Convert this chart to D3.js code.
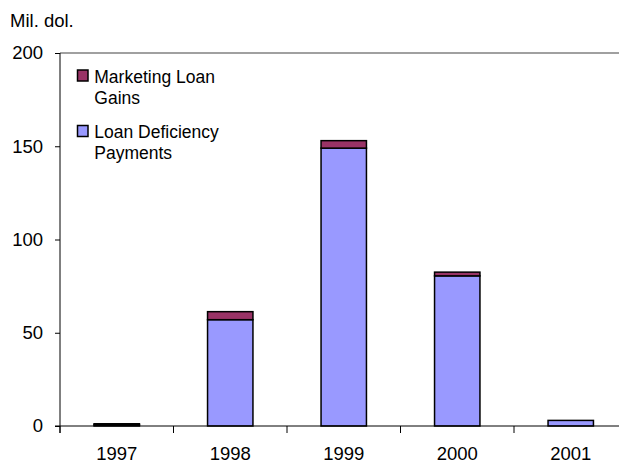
<!DOCTYPE html>
<html><head><meta charset="utf-8">
<script src="https://cdn.jsdelivr.net/npm/d3@7"></script>
<style>body{margin:0;background:#fff}svg{display:block;font-family:"Liberation Sans",Arial,sans-serif}</style>
</head><body><svg id="c" width="619" height="464"></svg>
<script>
const years = ["1997","1998","1999","2000","2001"];
const loanDeficiency = [0.6, 57, 149, 80.5, 3];
const marketingGains = [0.6, 4.3, 4, 2, 0];
const yTicks = [0, 50, 100, 150, 200];
const seriesNames = ["Marketing Loan Gains", "Loan Deficiency Payments"];

const svg = d3.select("#c");
const mLeft = 60, mTop = 53, mBottom = 426, mRight = 627.5;
const x = d3.scaleBand().domain(years).range([mLeft, mRight]).paddingInner(0.6).paddingOuter(0.3);
const y = d3.scaleLinear().domain([0, 200]).range([mBottom, mTop]);
const FONT = "Liberation Sans, Arial, sans-serif";

// top border line
svg.append("line").attr("x1", mLeft).attr("x2", 619).attr("y1", y(200)).attr("y2", y(200))
  .attr("stroke", "#808080").attr("stroke-width", 1.5);

const data = years.map((yr, i) => ({year: yr, ldp: loanDeficiency[i], mlg: marketingGains[i]}));
const stack = d3.stack().keys(["ldp", "mlg"])(data);
const colors = {ldp: "#9999FF", mlg: "#993366"};
stack.forEach(s => {
  svg.append("g").selectAll("rect").data(s).join("rect")
    .attr("x", d => x(d.data.year))
    .attr("width", x.bandwidth())
    .attr("y", d => y(d[1]))
    .attr("height", d => Math.max(0, y(d[0]) - y(d[1])))
    .attr("fill", colors[s.key])
    .attr("stroke", "#000").attr("stroke-width", 1.5);
});

// Y axis
const yAxis = d3.axisLeft(y).tickValues(yTicks).tickSize(5).tickPadding(12).tickSizeOuter(0);
const gy = svg.append("g").attr("transform", `translate(${mLeft},0)`).call(yAxis);
gy.select(".domain").attr("stroke", "#000").attr("d", `M0,${y(200)}V${mBottom + 7}`);
gy.selectAll(".tick line").attr("stroke", "#000");
gy.selectAll("text").attr("font-size", 18.5).attr("fill", "#000").attr("font-family", FONT);

// X axis
const xAxis = d3.axisBottom(x).tickSize(0).tickPadding(21).tickSizeOuter(0);
const gx = svg.append("g").attr("transform", `translate(0,${mBottom})`).call(xAxis);
gx.select(".domain").attr("stroke", "#000").attr("d", `M${mLeft - 5},0H619`);
gx.selectAll("text").attr("font-size", 18.5).attr("fill", "#000").attr("font-family", FONT);
// tick marks between categories
const step = x.step();
const boundaries = years.map((d, i) => mLeft + i * step);
gx.selectAll(".bnd").data(boundaries).join("line").attr("class", "bnd")
  .attr("x1", d => d).attr("x2", d => d).attr("y1", 0).attr("y2", 7).attr("stroke", "#000");

// Unit label
svg.append("text").attr("x", 10).attr("y", 26.7).attr("font-size", 18.5).attr("font-family", FONT).text("Mil. dol.");

// Legend
const legend = [
  {name: ["Marketing Loan", "Gains"], color: colors.mlg, y: 69.5},
  {name: ["Loan Deficiency", "Payments"], color: colors.ldp, y: 125}
];
const lg = svg.append("g");
legend.forEach(l => {
  lg.append("rect").attr("x", 77.5).attr("y", l.y + 0.5).attr("width", 10.5).attr("height", 11)
    .attr("fill", l.color).attr("stroke", "#000").attr("stroke-width", 1.5);
  l.name.forEach((t, j) => {
    lg.append("text").attr("x", 94.3).attr("y", l.y + 13.2 + j * 21).attr("font-size", 17.5)
      .attr("font-family", FONT).text(t);
  });
});
</script></body></html>
